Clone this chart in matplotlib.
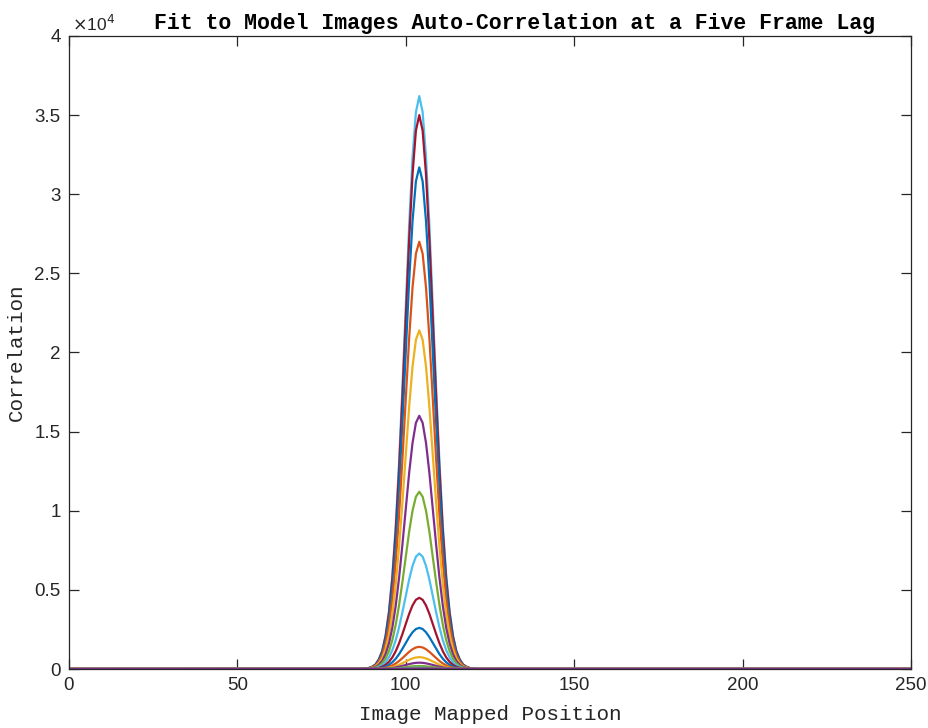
import numpy as np
import matplotlib
matplotlib.use("Agg")
import matplotlib.pyplot as plt

# ---- data ----
positions = np.arange(0, 251)                 # image mapped position
peak_center = 104
# normalised peak profile, offsets -16..16 around the peak centre
profile_offsets = np.arange(-16, 17)
profile_values = [0.0007, 0.0017, 0.004, 0.008, 0.017, 0.032, 0.059, 0.101,
                  0.163, 0.249, 0.360, 0.492, 0.635, 0.775, 0.893, 0.972,
                  1.0,
                  0.972, 0.893, 0.775, 0.635, 0.492, 0.360, 0.249, 0.163,
                  0.101, 0.059, 0.032, 0.017, 0.008, 0.004, 0.0017, 0.0007]
# peak heights of the curves, in plotting order
peak_heights = [36200, 35000, 31700, 27000, 21400, 16000, 11200, 7300, 4500,
                2600, 1400, 750, 400, 190, 80, 30, 10, 4, 1, 0.3]
# MATLAB default colour order, starting at the 6th colour
matlab_colors = ["#0072BD", "#D95319", "#EDB120", "#7E2F8E", "#77AC30",
                 "#4DBEEE", "#A2142F"]
color_start = 5

x_ticks = [0, 50, 100, 150, 200, 250]
y_ticks = [0, 5000, 10000, 15000, 20000, 25000, 30000, 35000, 40000]
y_tick_labels = ["0", "0.5", "1", "1.5", "2", "2.5", "3", "3.5", "4"]

title_text = "Fit to Model Images Auto-Correlation at a Five Frame Lag"
xlabel_text = "Image Mapped Position"
ylabel_text = "Correlation"

# ---- figure ----
fig = plt.figure(figsize=(9.29, 7.28), dpi=100)
ax = fig.add_axes([69/929, 59/728, (911-69)/929, (669-36)/728])

profile = np.zeros(len(positions))
profile[peak_center + profile_offsets - positions[0]] = profile_values

for i, h in enumerate(peak_heights):
    c = matlab_colors[(color_start + i) % len(matlab_colors)]
    ax.plot(positions, h * profile, color=c, lw=1.6)

ax.set_xlim(0, 250)
ax.set_ylim(0, 40000)
ax.set_xticks(x_ticks)
ax.set_yticks(y_ticks)
ax.set_yticklabels(y_tick_labels)

axc = "#262626"
for s in ax.spines.values():
    s.set_color(axc)
    s.set_linewidth(0.9)
ax.tick_params(direction="in", length=7, width=0.9, color=axc,
               top=True, right=True, labelsize=13.5, labelcolor=axc, pad=6)
for lab in ax.get_xticklabels() + ax.get_yticklabels():
    lab.set_fontfamily("Liberation Sans")

mono = "Liberation Mono"
ax.set_xlabel(xlabel_text, fontfamily=mono, fontsize=15, color=axc, labelpad=8)
ax.set_ylabel(ylabel_text, fontfamily=mono, fontsize=15, color=axc, labelpad=6)

fig.text(515/929, 1 - 23/728, title_text, fontfamily=mono, fontweight="bold",
         fontsize=15.5, ha="center", va="center", color="black")
fig.text(72/929, 1 - 24/728, r"$\times$10$^{4}$", fontfamily="Liberation Sans",
         fontsize=12.5, ha="left", va="center", color=axc)

fig.savefig("out.png", dpi=100)
